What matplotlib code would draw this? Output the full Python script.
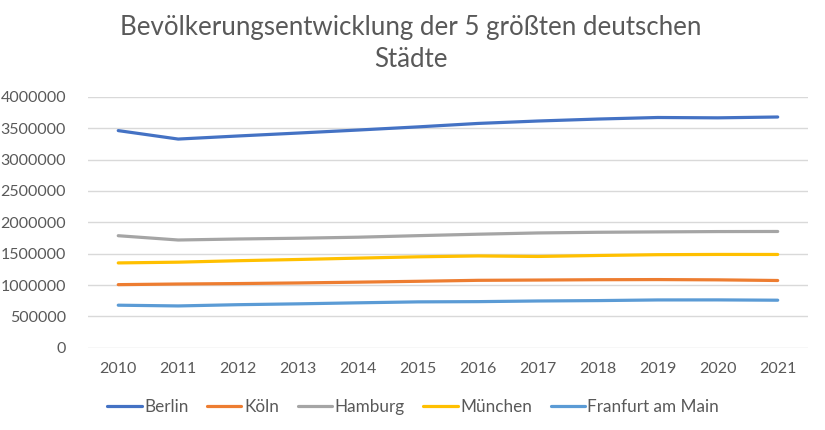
import matplotlib.pyplot as plt
import numpy as np

# Data
jahre = ["2010", "2011", "2012", "2013", "2014", "2015",
         "2016", "2017", "2018", "2019", "2020", "2021"]
berlin = [3460725, 3326002, 3375222, 3421829, 3469849, 3520031,
          3574830, 3613495, 3644826, 3669491, 3664088, 3677472]
koeln = [1007119, 1017155, 1024373, 1034175, 1046680, 1060582,
         1075935, 1080394, 1085664, 1087863, 1083498, 1073096]
hamburg = [1786448, 1718187, 1734272, 1746342, 1762791, 1787408,
           1810438, 1830584, 1841179, 1847253, 1852478, 1853935]
muenchen = [1353186, 1364920, 1388308, 1407836, 1429584, 1450381,
            1464301, 1456039, 1471508, 1484226, 1488202, 1487708]
frankfurt = [679664, 667925, 687775, 701350, 717624, 732688,
             736414, 746878, 753056, 763380, 764104, 759224]
yticks = [0, 500000, 1000000, 1500000, 2000000, 2500000, 3000000, 3500000, 4000000]

plt.rcParams['font.family'] = ['Lato', 'DejaVu Sans']
textcol = '#595959'

fig = plt.figure(figsize=(8.25, 4.3), dpi=100)
ax = fig.add_axes([0.107, 0.191, 0.872, 0.584])

x = np.arange(len(jahre))
serien = [("Berlin", berlin, '#4472C4'),
          ("Köln", koeln, '#ED7D31'),
          ("Hamburg", hamburg, '#A5A5A5'),
          ("München", muenchen, '#FFC000'),
          ("Franfurt am Main", frankfurt, '#5B9BD5')]
for name, vals, col in serien:
    ax.plot(x, vals, color=col, lw=2.3, label=name, solid_capstyle='round')

ax.set_xlim(-0.5, len(jahre) - 0.5)
ax.set_ylim(0, 4000000)
ax.set_yticks(yticks)
ax.set_yticklabels([str(v) for v in yticks])
ax.set_xticks(x)
ax.set_xticklabels(jahre)
ax.tick_params(length=0, labelsize=11.5, colors=textcol, pad=10)
ax.tick_params(axis='y', pad=16)
ax.grid(axis='y', color='#D9D9D9', lw=1)
ax.set_axisbelow(True)
for s in ax.spines.values():
    s.set_visible(False)

fig.text(0.498, 0.899, "Bevölkerungsentwicklung der 5 größten deutschen\nStädte",
         ha='center', va='center', fontsize=18.6, color=textcol, linespacing=1.35)

fig.legend(loc='center', bbox_to_anchor=(0.501, 0.053), ncol=5, frameon=False,
           fontsize=12.3, labelcolor=textcol, handlelength=2.0, handletextpad=0.15,
           columnspacing=1.1)

plt.savefig('out.png', dpi=100)
